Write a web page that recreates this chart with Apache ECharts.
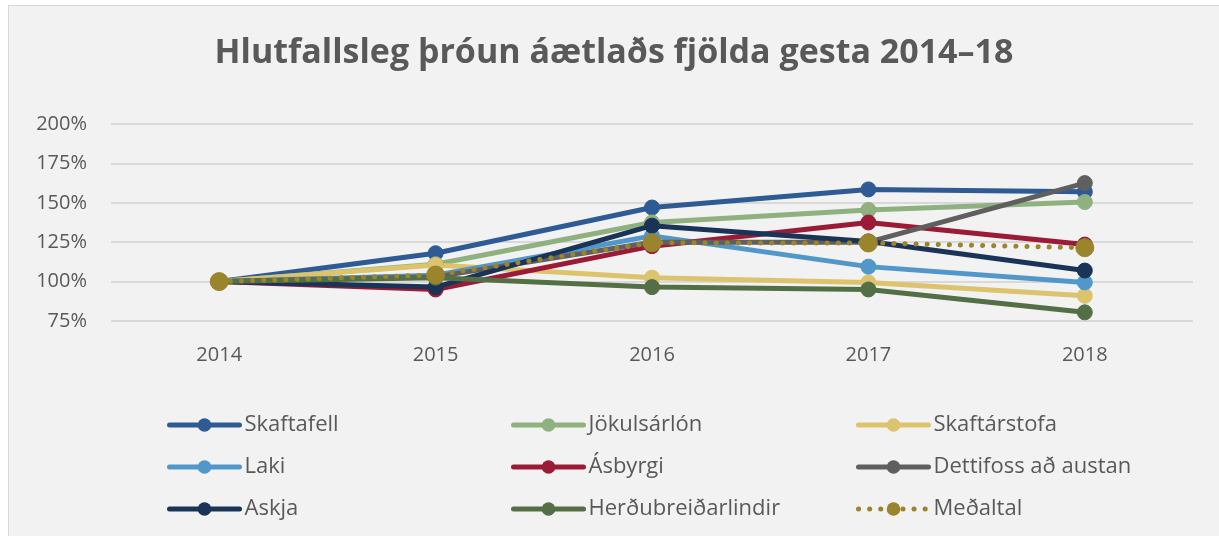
<!DOCTYPE html>
<html>
<head>
<meta charset="utf-8">
<script src="https://cdn.jsdelivr.net/npm/echarts@6/dist/echarts.min.js"></script>
<style>
  html, body { margin: 0; padding: 0; background: #ffffff; }
  #chart {
    position: absolute;
    left: 8px;
    top: 5px;
    width: 1210px;
    height: 531px;
    background: #f2f2f2;
    border-left: 1px solid #d9d9d9;
    border-top: 1px solid #d9d9d9;
  }
</style>
</head>
<body>
<div id="chart"></div>
<script>
// years on the x axis
const years = ["2014", "2015", "2016", "2017", "2018"];
const yTicks = [75, 100, 125, 150, 175, 200];

// relative change, % of 2014
const skaftafell = [100, 118, 147, 158.5, 157];
const jokulsarlon = [100, 111, 137.5, 145.5, 150.5];
const skaftarstofa = [100, 110.5, 102.5, 99.5, 91];
const laki = [100, 104, 129, 109.5, 99.5];
const asbyrgi = [100, 95, 122.5, 137.5, 123.5];
const dettifoss = [100, 103, 125, 125, 162.5];
const askja = [100, 96.5, 135.5, 125.5, 107];
const herdubreid = [100, 102.5, 96.5, 95, 80.5];
const medaltal = [100, 104.2, 124.6, 124.5, 121.5];

const names = ["Skaftafell", "Jökulsárlón", "Skaftárstofa", "Laki", "Ásbyrgi",
  "Dettifoss að austan", "Askja", "Herðubreiðarlindir", "Meðaltal"];
const values = [skaftafell, jokulsarlon, skaftarstofa, laki, asbyrgi,
  dettifoss, askja, herdubreid, medaltal];
const colors = ["#2e5b93", "#8fb07f", "#dbc46d", "#5297ca", "#9b1b36",
  "#5f5f5f", "#1a3457", "#536f45", "#9a842c"];

let myChart = echarts.init(document.getElementById("chart"), null, { renderer: "canvas" });

let series = names.map(function (n, i) {
  let isMean = n === "Meðaltal";
  return {
    name: n,
    type: "line",
    data: values[i],
    symbol: "circle",
    symbolSize: isMean ? 18 : 15,
    z: isMean ? 10 : 2,
    lineStyle: {
      width: 5,
      color: colors[i],
      type: isMean ? [0.1, 11] : "solid",
      cap: "round",
    },
    itemStyle: {
      color: colors[i],
      borderColor: colors[i],
    },
    emphasis: { disabled: true },
  };
});

const legendText = { color: "#595959", fontSize: 22, fontFamily: "Open Sans" };
function legendCol(left, data) {
  return {
    orient: "vertical",
    left: left,
    top: 408,
    padding: 0,
    itemWidth: 70,
    itemHeight: 17,
    itemGap: 20,
    textStyle: legendText,
    lineStyle: { width: 5, cap: "round" },
    data: data,
  };
}

let options = {
  backgroundColor: "#f2f2f2",
  animation: false,
  color: colors,
  title: {
    text: "Hlutfallsleg þróun áætlaðs fjölda gesta 2014–18",
    left: "center",
    top: 25,
    textStyle: {
      color: "#595959",
      fontSize: 34,
      fontWeight: "bold",
      fontFamily: "Open Sans",
    },
  },
  legend: [
    legendCol(158, ["Skaftafell", "Laki", "Askja"]),
    legendCol(502, ["Jökulsárlón", "Ásbyrgi", "Herðubreiðarlindir"]),
    legendCol(847, ["Skaftárstofa", "Dettifoss að austan", "Meðaltal"]),
  ],
  grid: {
    left: 102,
    right: 26,
    top: 118,
    bottom: 216,
  },
  xAxis: {
    type: "category",
    data: years,
    boundaryGap: true,
    axisLine: { show: false },
    axisTick: { show: false },
    axisLabel: {
      color: "#595959",
      fontSize: 20,
      fontFamily: "Open Sans",
      margin: 24,
    },
  },
  yAxis: {
    type: "value",
    min: yTicks[0],
    max: yTicks[yTicks.length - 1],
    interval: 25,
    axisLine: { show: false },
    axisTick: { show: false },
    axisLabel: {
      formatter: "{value}%",
      color: "#595959",
      fontSize: 20,
      fontFamily: "Open Sans",
      margin: 24,
    },
    splitLine: { lineStyle: { color: "#d9d9d9", width: 2 } },
  },
  series: series,
};

myChart.setOption(options);
</script>
</body>
</html>
